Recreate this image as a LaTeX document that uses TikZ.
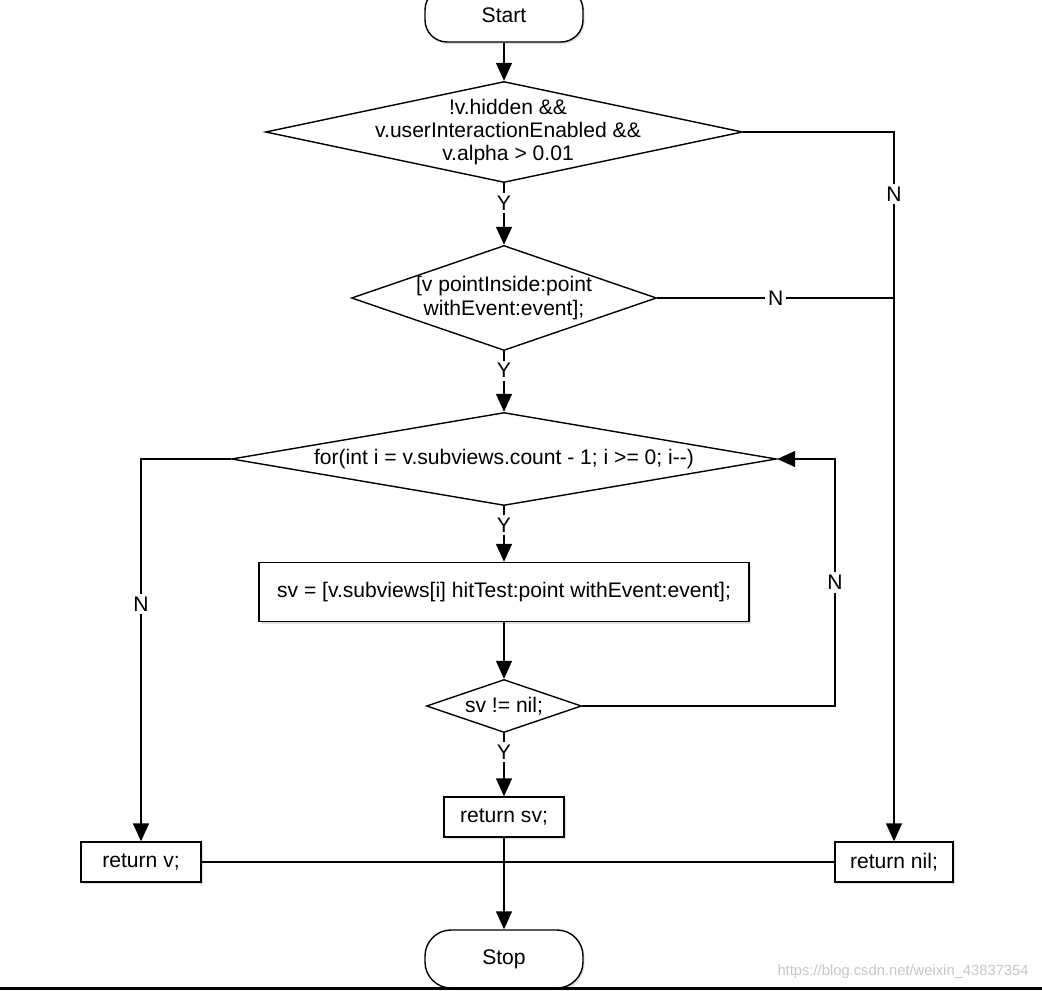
\documentclass[tikz,border=0pt]{standalone}
\usepackage{fontspec}
\setmainfont{Liberation Sans}
\usetikzlibrary{shapes.geometric,arrows.meta,shadows}

\tikzset{
  boxshadow/.style={drop shadow={opacity=0.25,shadow xshift=0.04cm,shadow yshift=-0.05cm}},
  terminal/.style={draw, fill=white, rounded corners=0.55cm, minimum width=3.95cm, boxshadow},
  process/.style={draw, fill=white, inner sep=0pt, boxshadow},
  decision/.style 2 args={draw, diamond, fill=white, inner sep=0pt, minimum width=#1, minimum height=#2},
  dtext/.style={align=center, inner sep=0pt},
  flow/.style={-{Triangle[length=0.45cm,width=0.4cm]}},
  lbl/.style={fill=white, inner sep=2pt}
}

\begin{document}
\begin{tikzpicture}[line width=1pt, font=\fontsize{15}{16.5}\selectfont]
  \useasboundingbox (0,0) rectangle (26.05,-24.75);

  % Start and stop
  \node[terminal, minimum height=1.35cm] (start) at (12.6,-0.375) {Start};
  \node[terminal, minimum height=1.45cm, rounded corners=0.65cm] (stop) at (12.6,-23.975) {Stop};

  % Tests
  \node[decision={11.925cm}{2.525cm}] (vis) at (12.6,-3.3) {};
  \node[dtext] (vistext) at ([xshift=0.1cm]vis.center) {!v.hidden \&\&\\v.userInteractionEnabled \&\&\\v.alpha > 0.01};
  \node[decision={7.625cm}{2.625cm}] (inside) at (12.6,-7.45) {};
  \node[dtext] (insidetext) at (inside) {[v pointInside:point\\withEvent:event];};
  \node[decision={13.625cm}{2.325cm}] (loop) at (12.6,-11.475) {};
  \node[dtext] (looptext) at (loop) {for(int i = v.subviews.count - 1; i >= 0; i-\kern0pt-)};
  \node[process, minimum width=12.25cm, minimum height=1.475cm] (hit) at (12.6,-14.8) {sv = [v.subviews[i] hitTest:point withEvent:event];};
  \node[decision={3.875cm}{1.325cm}] (found) at (12.6,-17.65) {};
  \node[dtext] (foundtext) at (found) {sv != nil;};

  % Returns
  \node[process, minimum width=3cm, minimum height=1cm] (retsv) at (12.6,-20.425) {return sv;};
  \node[process, minimum width=3cm, minimum height=1cm] (retv) at (3.525,-21.55) {return v;};
  \node[process, minimum width=2.95cm, minimum height=1cm] (retnil) at (22.35,-21.55) {return nil;};
  \coordinate (loopc) at (20.875,-11.475);

  % Yes path
  \draw[flow] (start.south) -- (vis.north);
  \draw[flow] (vis.south) -- node[lbl, pos=0.32] (y1) {Y} (inside.north);
  \draw[flow] (inside.south) -- node[lbl, pos=0.32] (y2) {Y} (loop.north);
  \draw[flow] (loop.south) -- node[lbl, pos=0.34] (y3) {Y} (hit.north);
  \draw[flow] (hit.south) -- (found.north);
  \draw[flow] (found.south) -- node[lbl, pos=0.3] (y4) {Y} (retsv.north);
  \draw[flow] (retsv.south) -- (stop.north);

  % No paths
  \draw[flow] (vis.east) -| node[lbl, pos=0.544] (n1) {N} (retnil.north);
  \draw (inside.east) -- node[lbl] (n2) {N} (inside.east -| retnil.north);
  \draw[flow] (loop.west) -| node[lbl, pos=0.69] (n3) {N} (retv.north);
  \draw[flow] (found.east) -| node[lbl, pos=0.75] (n4) {N} (loopc) -- (loop.east);
  \draw (retv.east) -- (retnil.west);

  % Page edge and watermark
  \fill (0,-24.68) rectangle (26.05,-24.75);
  \node[anchor=east, text=gray!45, font=\fontsize{10.5}{12}\selectfont] (wmark) at (25.85,-24.3) {https://blog.csdn.net/weixin\_43837354};
\end{tikzpicture}
\end{document}
